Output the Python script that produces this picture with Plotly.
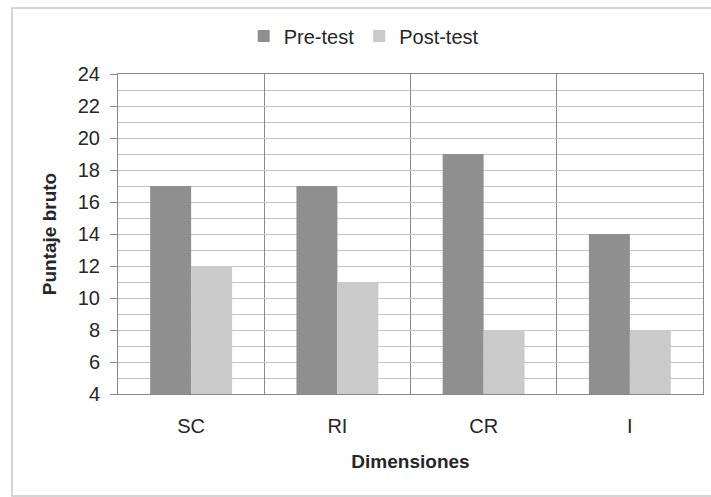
import plotly.graph_objects as go

# Raw scores per dimension, before and after the intervention
dimensiones = ["SC", "RI", "CR", "I"]
pre_test = [17, 17, 19, 14]
post_test = [12, 11, 8, 8]

y_ticks = list(range(4, 25, 2))

FONT = "Liberation Sans, Arial, sans-serif"
TEXT = "#262626"

fig = go.Figure()
fig.add_trace(go.Bar(name="Pre-test", x=dimensiones, y=pre_test,
                     marker=dict(color="#8f8f8f", line=dict(width=0))))
fig.add_trace(go.Bar(name="Post-test", x=dimensiones, y=post_test,
                     marker=dict(color="#cacaca", line=dict(width=0))))

fig.update_layout(
    width=711, height=497,
    margin=dict(l=118, r=8, t=74, b=103),
    paper_bgcolor="white", plot_bgcolor="white",
    barmode="group", bargap=0.44, bargroupgap=0,
    font=dict(family=FONT, size=20, color=TEXT),
    legend=dict(orientation="h", x=0.42, xanchor="center", y=1.119, yanchor="middle",
                font=dict(size=20, color=TEXT), itemwidth=30, tracegroupgap=0,
                bgcolor="rgba(0,0,0,0)"),
    showlegend=True,
)

fig.update_xaxes(
    type="category", tickson="boundaries", showgrid=True, gridcolor="#8a8a8a", gridwidth=1,
    showline=True, linecolor="#8a8a8a", linewidth=1, mirror=True,
    ticks="", ticklabelstandoff=14, tickfont=dict(size=20, color=TEXT),
    title=dict(text="<b>Dimensiones</b>", font=dict(size=19, color=TEXT), standoff=18),
)
fig.update_yaxes(
    range=[4, 24], tickvals=y_ticks, ticktext=[str(v) for v in y_ticks],
    showgrid=True, gridcolor="#c4c4c4", gridwidth=1,
    minor=dict(dtick=1, tick0=4, showgrid=True, gridcolor="#c4c4c4", gridwidth=1),
    showline=True, linecolor="#8a8a8a", linewidth=1, mirror=True,
    ticks="outside", ticklen=7, tickcolor="#8a8a8a", ticklabelstandoff=6,
    tickfont=dict(size=20, color=TEXT), zeroline=False,
    title=dict(text="<b>Puntaje bruto</b>", font=dict(size=19, color=TEXT), standoff=16),
)

# Light frame around the whole chart
fig.add_shape(type="rect", xref="paper", yref="paper",
              x0=-106 / 585, x1=1.03, y0=-102 / 320, y1=1 + 66 / 320,
              line=dict(color="#c8c8c8", width=1.5), layer="below")

fig.write_html("out.html")
